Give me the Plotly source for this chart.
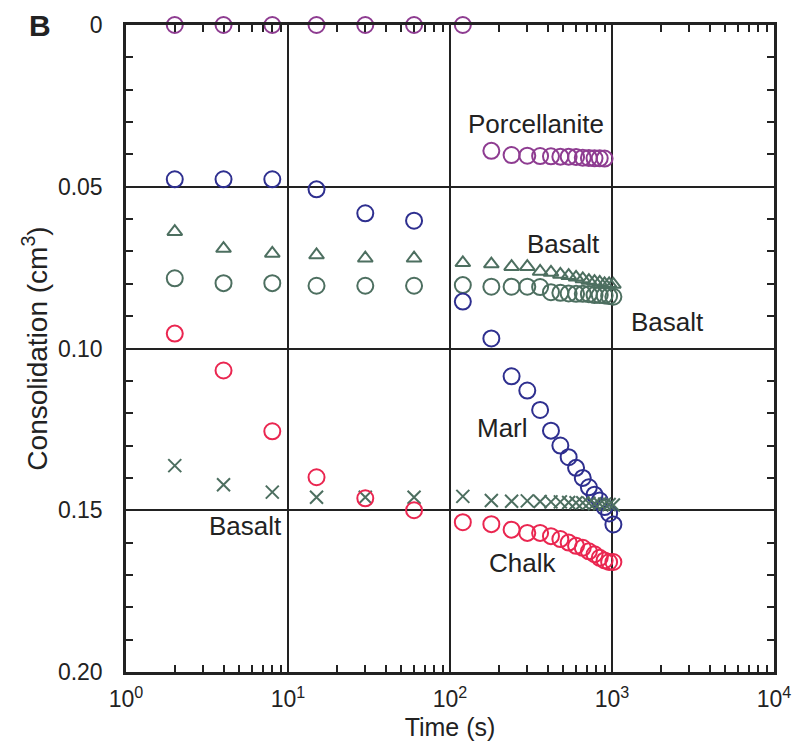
import math
import plotly.graph_objects as go

# Sampling times (s)
t_early = [2, 4, 8, 15, 30, 60, 120]
t_late = [180, 240, 300, 360, 420, 480, 540, 600, 660, 720, 780, 840, 900, 960, 1020]
t_all = t_early + t_late
t_porc = t_early + t_late[:13]

# Consolidation (cm^3)
porcellanite = [0, 0, 0, 0, 0, 0, 0,
                0.0389, 0.0402, 0.0404, 0.0405, 0.0406, 0.0407, 0.0407, 0.0408,
                0.0410, 0.0411, 0.0412, 0.0412, 0.0413]
marl = [0.0477, 0.0477, 0.0477, 0.0508, 0.0582, 0.0605, 0.0855,
        0.0969, 0.1086, 0.113, 0.119, 0.1254, 0.130, 0.1336, 0.1369,
        0.140, 0.1429, 0.1452, 0.147, 0.149, 0.151, 0.1544]
basalt_tri = [0.0639, 0.0691, 0.0706, 0.0711, 0.0721, 0.0721, 0.0735,
              0.0739, 0.0747, 0.0747, 0.0762, 0.0765, 0.0771, 0.0775, 0.078,
              0.0785, 0.079, 0.0793, 0.0796, 0.080, 0.080, 0.0802]
basalt_circ = [0.0783, 0.0798, 0.0798, 0.0806, 0.0806, 0.0806, 0.0804,
               0.0809, 0.0809, 0.0809, 0.0810, 0.0826, 0.0828, 0.083, 0.0831,
               0.0831, 0.0832, 0.0835, 0.0835, 0.0836, 0.0838, 0.084]
chalk = [0.0954, 0.1068, 0.1256, 0.1398, 0.1463, 0.150, 0.1537,
         0.1543, 0.156, 0.157, 0.157, 0.158, 0.1589, 0.160, 0.161,
         0.1616, 0.1627, 0.1636, 0.1647, 0.1655, 0.166, 0.166]
basalt_x = [0.1362, 0.1421, 0.1444, 0.146, 0.146, 0.146, 0.1457,
            0.147, 0.1472, 0.1471, 0.1473, 0.1474, 0.1474, 0.1476, 0.1477,
            0.1477, 0.1478, 0.148, 0.148, 0.1481, 0.1482, 0.1484]

PURPLE = "#8E3C91"
NAVY = "#2E2F8F"
GREEN = "#4D6F60"
RED = "#EA2650"
INK = "#222"

FONT = "Liberation Sans, Arial, Helvetica, sans-serif"

fig = go.Figure()


def add(x, y, color, symbol, size=16):
    fig.add_trace(go.Scatter(
        x=x, y=y, mode="markers",
        marker=dict(symbol=symbol, size=size, color=color,
                    line=dict(color=color, width=2)),
        showlegend=False, cliponaxis=False))


add(t_porc, porcellanite, PURPLE, "circle-open")
add(t_all, basalt_tri, GREEN, "triangle-up-open", 13)
add(t_all, basalt_circ, GREEN, "circle-open")
add(t_all, marl, NAVY, "circle-open")
add(t_all, basalt_x, GREEN, "x-thin-open", 13)
add(t_all, chalk, RED, "circle-open")

# empty trace so the mirrored top/right axes are drawn
fig.add_trace(go.Scatter(x=[], y=[], xaxis="x2", yaxis="y2", showlegend=False))

minor_x = [m * 10 ** d for d in range(4) for m in range(2, 10)]
minor_y = [i / 100 for i in range(1, 20) if i % 5]

# rock-type labels (time in s, consolidation in cm^3)
labels = [
    ("Porcellanite", 338, 0.0306),
    ("Basalt", 504, 0.0676),
    ("Basalt", 2213, 0.0917),
    ("Marl", 211, 0.1247),
    ("Chalk", 281, 0.1664),
    ("Basalt", 5.45, 0.155),
]
for text, xv, yv in labels:
    fig.add_annotation(x=math.log10(xv), y=yv, text=text,
                       showarrow=False, xref="x", yref="y",
                       font=dict(family=FONT, size=26, color=INK))

# panel letter
fig.add_annotation(x=-0.133, y=1.0, xref="paper", yref="paper", text="<b>B</b>",
                   xanchor="center", yanchor="middle", showarrow=False,
                   font=dict(family=FONT, size=30, color=INK))

axis_line = dict(showline=True, linecolor=INK, linewidth=2.5)

fig.update_layout(
    width=806, height=754,
    margin=dict(l=126, r=32, t=23, b=82),
    paper_bgcolor="white", plot_bgcolor="white",
    font=dict(family=FONT, size=23, color=INK),
    xaxis=dict(
        type="log", range=[0, 4], **axis_line,
        tickvals=[1, 10, 100, 1000, 10000],
        ticktext=["10<sup>0</sup>", "10<sup>1</sup>", "10<sup>2</sup>",
                  "10<sup>3</sup>", "10<sup>4</sup>"],
        tickfont=dict(size=23),
        ticks="", ticklabelstandoff=5,
        showgrid=True, gridcolor=INK, gridwidth=2,
        minor=dict(tickvals=minor_x, ticks="inside", ticklen=7,
                   tickcolor=INK, tickwidth=2, showgrid=False),
        title=dict(text="Time (s)", font=dict(size=25), standoff=8),
        zeroline=False,
    ),
    yaxis=dict(
        range=[0.20, 0], **axis_line,
        tickvals=[0, 0.05, 0.10, 0.15, 0.20],
        ticktext=["0", "0.05", "0.10", "0.15", "0.20"],
        tickfont=dict(size=23),
        ticks="", ticklabelstandoff=16,
        showgrid=True, gridcolor=INK, gridwidth=2,
        minor=dict(tickvals=minor_y, ticks="inside", ticklen=7,
                   tickcolor=INK, tickwidth=2, showgrid=False),
        title=dict(text="Consolidation (cm<sup>3</sup>)", font=dict(size=28), standoff=3),
        zeroline=False,
    ),
    xaxis2=dict(
        type="log", range=[0, 4], overlaying="x", side="top", anchor="y",
        tickvals=minor_x, ticks="inside", ticklen=7, tickcolor=INK, tickwidth=2,
        showticklabels=False, showgrid=False, zeroline=False, **axis_line,
    ),
    yaxis2=dict(
        range=[0.20, 0], overlaying="y", side="right", anchor="x",
        tickvals=minor_y, ticks="inside", ticklen=7, tickcolor=INK, tickwidth=2,
        showticklabels=False, showgrid=False, zeroline=False, **axis_line,
    ),
)

fig.write_html("out.html")
